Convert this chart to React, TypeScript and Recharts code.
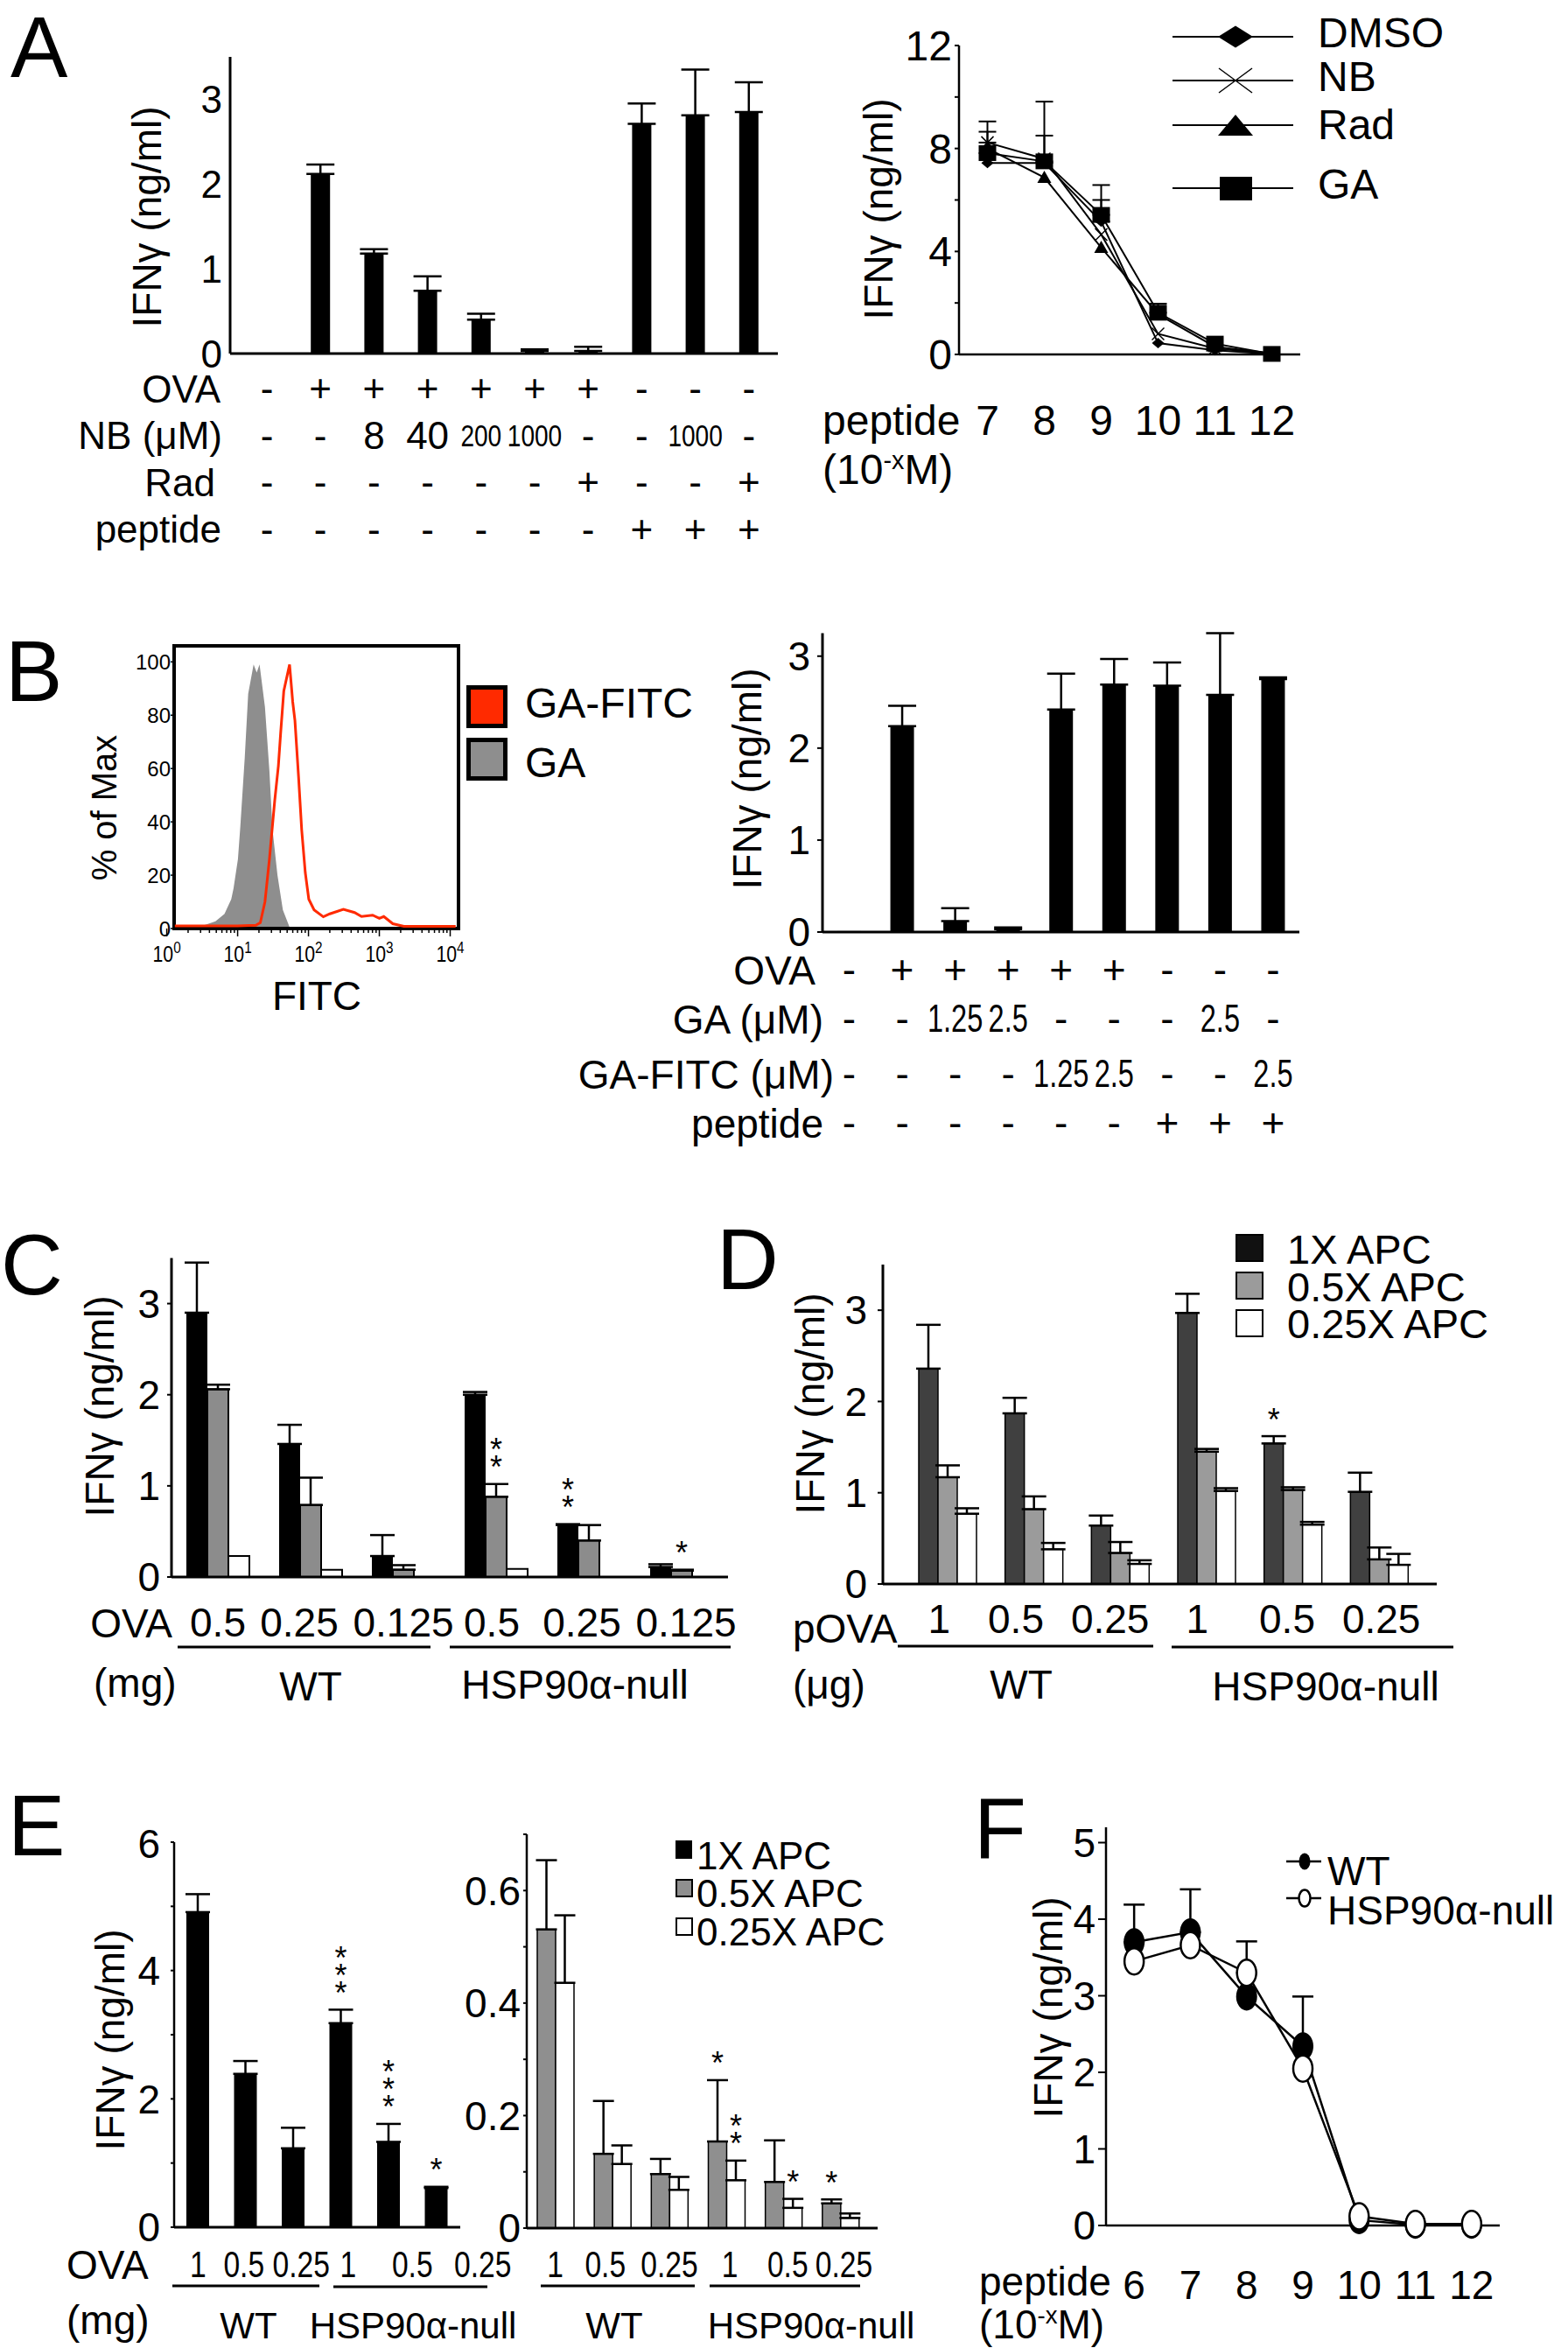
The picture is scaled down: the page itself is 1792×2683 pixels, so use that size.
import React from 'react';
import {
  BarChart,
  Bar,
  LineChart,
  Line,
  ComposedChart,
  Area,
  XAxis,
  YAxis,
  ErrorBar,
  LabelList,
  ReferenceArea,
} from 'recharts';

const FONT = '"Liberation Sans", Arial, Helvetica, sans-serif';

// ---------- A (left): IFNγ, NB / Rad treatment ----------
const aConditions = ['a1', 'a2', 'a3', 'a4', 'a5', 'a6', 'a7', 'a8', 'a9', 'a10'];
const aIfng = [0.01, 2.12, 1.18, 0.74, 0.4, 0.03, 0.03, 2.71, 2.81, 2.85];
const aIfngErr = [0, 0.11, 0.05, 0.17, 0.07, 0.02, 0.05, 0.24, 0.54, 0.35];
const aRowOva = ['-', '+', '+', '+', '+', '+', '+', '-', '-', '-'];
const aRowNb = ['-', '-', '8', '40', '200', '1000', '-', '-', '1000', '-'];
const aRowRad = ['-', '-', '-', '-', '-', '-', '+', '-', '-', '+'];
const aRowPeptide = ['-', '-', '-', '-', '-', '-', '-', '+', '+', '+'];

// ---------- A (right): peptide titration ----------
const aPeptideExp = [7, 8, 9, 10, 11, 12];
const aDmso = [7.44, 7.44, 5.16, 0.44, 0.16, 0.02];
const aNb = [8.23, 7.6, 4.66, 0.8, 0.23, 0.04];
const aRad = [8.0, 6.87, 4.15, 1.56, 0.3, 0.04];
const aGa = [7.82, 7.5, 5.42, 1.62, 0.42, 0.02];
const aDmsoErr = [0, 1.06, 0.84, 0, 0, 0];
const aNbErr = [0.42, 0, 0, 0, 0, 0];
const aGaErr = [1.23, 2.32, 1.16, 0.35, 0, 0];

// ---------- B (left): FITC histogram ----------
const bGaFitc = [2.72, 3.65, 4.87, 6.53, 8.13, 8.75, 10.1, 10.9, 12.6, 14.1, 16.8, 18.6, 20.4, 24.3, 28.1, 31.1, 36.5, 43.5, 54.1];
const bGaPct = [0.5, 1.6, 2.7, 5.5, 11, 15, 26, 38, 64, 88, 99, 96, 99, 83, 59, 37, 20, 7, 0.5];
const bGaFitcFitc = [1.3, 10, 18.1, 20.9, 24.3, 28.1, 33.4, 37.6, 40.4, 44.8, 54.1, 59.9, 64.4, 72.4, 80.2, 90.1, 101, 120, 162, 200, 311, 447, 560, 804, 1000, 1156, 1549, 2225, 11940];
const bGaFitcPct = [1, 1, 1.2, 2.2, 10, 26, 48, 61, 73, 89, 99, 85, 78, 57, 37, 21, 11, 7, 4.4, 5.5, 7.2, 6, 4.5, 5, 3.8, 4.5, 1.8, 0.8, 0.8];
const bDecades = [1, 10, 100, 1000, 10000];
const bPctTicks = [0, 20, 40, 60, 80, 100];

// ---------- B (right): GA vs GA-FITC ----------
const bConditions = ['b1', 'b2', 'b3', 'b4', 'b5', 'b6', 'b7', 'b8', 'b9'];
const bIfng = [0.01, 2.24, 0.12, 0.03, 2.42, 2.69, 2.68, 2.58, 2.75];
const bIfngErr = [0, 0.22, 0.14, 0.02, 0.39, 0.28, 0.25, 0.67, 0.02];
const bRowOva = ['-', '+', '+', '+', '+', '+', '-', '-', '-'];
const bRowGa = ['-', '-', '1.25', '2.5', '-', '-', '-', '2.5', '-'];
const bRowGaFitc = ['-', '-', '-', '-', '1.25', '2.5', '-', '-', '2.5'];
const bRowPeptide = ['-', '-', '-', '-', '-', '-', '+', '+', '+'];

// ---------- C: OVA protein, APC dilution ----------
const cGroups = ['c1', 'c2', 'c3', 'c4', 'c5', 'c6'];
const cDoses = ['0.5', '0.25', '0.125', '0.5', '0.25', '0.125'];
const cApc1 = [2.9, 1.46, 0.23, 2.0, 0.57, 0.11];
const cApc1Err = [0.55, 0.21, 0.23, 0.03, 0.01, 0.03];
const cApc05 = [2.06, 0.79, 0.08, 0.88, 0.4, 0.07];
const cApc05Err = [0.05, 0.3, 0.05, 0.14, 0.17, 0.01];
const cApc025 = [0.23, 0.08, 0, 0.09, 0, 0];
const cSig1 = [0, 0, 0, 0, 2, 0];
const cSig05 = [0, 0, 0, 2, 0, 1];

// ---------- D: pOVA, APC dilution ----------
const dGroups = ['d1', 'd2', 'd3', 'd4', 'd5', 'd6'];
const dDoses = ['1', '0.5', '0.25', '1', '0.5', '0.25'];
const dApc1 = [2.36, 1.87, 0.64, 2.97, 1.54, 1.01];
const dApc1Err = [0.48, 0.17, 0.11, 0.21, 0.08, 0.21];
const dApc05 = [1.17, 0.82, 0.34, 1.45, 1.03, 0.27];
const dApc05Err = [0.13, 0.14, 0.12, 0.03, 0.03, 0.13];
const dApc025 = [0.77, 0.38, 0.22, 1.02, 0.65, 0.21];
const dApc025Err = [0.06, 0.07, 0.04, 0.03, 0.03, 0.12];
const dSig1 = [0, 0, 0, 0, 1, 0];

// ---------- E ----------
const eGroups = ['e1', 'e2', 'e3', 'e4', 'e5', 'e6'];
const eDoses = ['1', '0.5', '0.25', '1', '0.5', '0.25'];
const eLeft1 = [4.91, 2.39, 1.23, 3.18, 1.33, 0.61];
const eLeft1Err = [0.28, 0.2, 0.32, 0.21, 0.28, 0.02];
const eLeftSig = [0, 0, 0, 3, 3, 1];
const eRight05 = [0.531, 0.132, 0.096, 0.154, 0.082, 0.044];
const eRight05Err = [0.123, 0.094, 0.027, 0.109, 0.074, 0.007];
const eRight025 = [0.436, 0.114, 0.068, 0.085, 0.036, 0.018];
const eRight025Err = [0.12, 0.033, 0.023, 0.035, 0.016, 0.008];
const eRightSig05 = [0, 0, 0, 1, 0, 1];
const eRightSig025 = [0, 0, 0, 2, 1, 0];

// ---------- F ----------
const fPeptideExp = [6, 7, 8, 9, 10, 11, 12];
const fWt = [3.7, 3.83, 2.99, 2.34, 0.07, 0.01, 0.01];
const fWtErr = [0.49, 0.56, 0, 0.65, 0, 0, 0];
const fNull = [3.45, 3.66, 3.3, 2.05, 0.12, 0.02, 0.02];
const fNullErr = [0, 0, 0.41, 0, 0, 0, 0];

// ---------- helpers ----------
const upErr = (e: number) => (e ? [0, e] : null);
const AXIS3 = { stroke: '#000', strokeWidth: 3 };
const AXIS2 = { stroke: '#000', strokeWidth: 2.5 };
const TICK = { stroke: '#000', strokeWidth: 2 };
const tickStyle = (fs: number) => ({ fontSize: fs, fill: '#000', fontFamily: FONT });

const vbOf = (p: any) => p.viewBox || { x: p.x, y: p.y, width: p.width, height: p.height };

// horizontally condensed label (the figure uses a narrow face for numbers)
const CText = ({ x, y, size, sx = 1, children }: any) => (
  <g transform={`translate(${x} ${y}) scale(${sx} 1)`}>
    <text x={0} y={0} dy="0.35em" textAnchor="middle" fontSize={size} fontFamily={FONT} fill="#000">
      {children}
    </text>
  </g>
);

// table row under a bar, placed from the bar's own geometry
const rowLabel = (values: string[], offset: number, size = 44, small = 0, sxLong = 0.78) => (p: any) => {
  const vb = vbOf(p);
  const v = values[p.index];
  if (!v) return null;
  const long = v.length > 2;
  return (
    <CText x={vb.x + vb.width / 2} y={vb.y + vb.height + offset} size={small && long ? small : size} sx={long ? sxLong : 1}>
      {v}
    </CText>
  );
};

// significance stars above the error bar
const stars = (sig: number[], vals: number[], errs: number[]) => (p: any) => {
  const i = p.index;
  const n = sig[i];
  if (!n) return null;
  const vb = vbOf(p);
  const h = Math.abs(vb.height);
  const top = Math.min(vb.y, vb.y + vb.height);
  const errTop = vals[i] > 0 ? top - (errs[i] / vals[i]) * h : top;
  const cx = vb.x + vb.width / 2;
  return (
    <g>
      {Array.from({ length: n }).map((_, k) => (
        <text key={k} x={cx} y={errTop - 27 - k * 20} dy="0.57em" textAnchor="middle" fontSize={36} fontFamily={FONT} fill="#000">
          *
        </text>
      ))}
    </g>
  );
};

const catTick = (labels: string[], size: number, nudge?: number[], sx = 1) => (p: any) => {
  const i = p.index ?? p.payload?.index ?? 0;
  return (
    <CText x={p.x + (nudge ? nudge[i] : 0)} y={p.y} size={size} sx={sx}>
      {labels[i]}
    </CText>
  );
};

const numTick = (size: number) => (p: any) => (
  <text x={p.x} y={p.y} dy="0.35em" textAnchor="middle" fontSize={size} fontFamily={FONT} fill="#000">
    {p.payload.value}
  </text>
);

const LogTick = (p: any) => {
  const v = p.payload.value;
  const exp = Math.log10(v);
  const major = Math.abs(exp - Math.round(exp)) < 1e-6;
  return (
    <g>
      <line x1={p.x} x2={p.x} y1={p.y} y2={p.y + (major ? 9 : 5)} stroke="#000" strokeWidth={1.5} />
      {major && (
        <g transform={`translate(${p.x} ${p.y + 38}) scale(0.85 1)`}>
          <text x={0} y={0} textAnchor="middle" fontSize={25} fontFamily={FONT} fill="#000">
            10
            <tspan dy={-10} fontSize={18}>
              {Math.round(exp)}
            </tspan>
          </text>
        </g>
      )}
    </g>
  );
};

// markers
const diamondDot = (p: any) => (
  <polygon key={`dm${p.index}`} points={`${p.cx},${p.cy - 6} ${p.cx + 7},${p.cy} ${p.cx},${p.cy + 6} ${p.cx - 7},${p.cy}`} fill="#000" />
);
const crossDot = (p: any) => (
  <g key={`nb${p.index}`} stroke="#000" strokeWidth={1.5}>
    <line x1={p.cx - 7} y1={p.cy - 7} x2={p.cx + 7} y2={p.cy + 7} />
    <line x1={p.cx - 7} y1={p.cy + 7} x2={p.cx + 7} y2={p.cy - 7} />
  </g>
);
const triDot = (p: any) => (
  <polygon key={`rd${p.index}`} points={`${p.cx},${p.cy - 8} ${p.cx + 8},${p.cy + 6} ${p.cx - 8},${p.cy + 6}`} fill="#000" />
);
const squareDot = (p: any) => <rect key={`ga${p.index}`} x={p.cx - 10} y={p.cy - 9} width={20} height={18} fill="#000" />;
const fullEllipse = (p: any) => <ellipse key={`wt${p.index}`} cx={p.cx} cy={p.cy} rx={11} ry={15} fill="#000" stroke="#000" strokeWidth={2} />;
const openEllipse = (p: any) => <ellipse key={`nl${p.index}`} cx={p.cx} cy={p.cy} rx={11} ry={15} fill="#fff" stroke="#000" strokeWidth={2.5} />;

// ---------- tables for the library ----------
const aBarData = aConditions.map((c, i) => ({ cond: c, ifng: aIfng[i], err: upErr(aIfngErr[i]) }));
const aLineData = aPeptideExp.map((p, i) => ({
  p,
  dmso: aDmso[i],
  nb: aNb[i],
  rad: aRad[i],
  ga: aGa[i],
  dmsoErr: upErr(aDmsoErr[i]),
  nbErr: upErr(aNbErr[i]),
  gaErr: upErr(aGaErr[i]),
}));
const bGaData = bGaFitc.map((f, i) => ({ fitc: f, pct: bGaPct[i] }));
const bGaFitcData = bGaFitcFitc.map((f, i) => ({ fitc: f, pct: bGaFitcPct[i] }));
const bLogTicks = bDecades.flatMap((d) => (d === 10000 ? [d] : [1, 2, 3, 4, 5, 6, 7, 8, 9].map((m) => m * d)));
const bBarData = bConditions.map((c, i) => ({ cond: c, ifng: bIfng[i], err: upErr(bIfngErr[i]) }));
const cData = cGroups.map((g, i) => ({
  g,
  apc1: cApc1[i],
  apc1Err: upErr(cApc1Err[i]),
  apc05: cApc05[i],
  apc05Err: upErr(cApc05Err[i]),
  apc025: cApc025[i],
}));
const dData = dGroups.map((g, i) => ({
  g,
  apc1: dApc1[i],
  apc1Err: upErr(dApc1Err[i]),
  apc05: dApc05[i],
  apc05Err: upErr(dApc05Err[i]),
  apc025: dApc025[i],
  apc025Err: upErr(dApc025Err[i]),
}));
const eLeftData = eGroups.map((g, i) => ({ g, apc1: eLeft1[i], apc1Err: upErr(eLeft1Err[i]) }));
const eRightData = eGroups.map((g, i) => ({
  g,
  apc05: eRight05[i],
  apc05Err: upErr(eRight05Err[i]),
  apc025: eRight025[i],
  apc025Err: upErr(eRight025Err[i]),
}));
const fData = fPeptideExp.map((p, i) => ({ p, wt: fWt[i], wtErr: upErr(fWtErr[i]), nul: fNull[i], nulErr: upErr(fNullErr[i]) }));

// ---------- panels ----------
function PanelABars() {
  return (
    <BarChart width={749} height={600} data={aBarData} margin={{ top: 25, right: 10, left: 0, bottom: 0 }}>
      <XAxis dataKey="cond" height={236} tick={false} tickLine={false} axisLine={AXIS3} padding={{ left: 11, right: 3 }} />
      <YAxis width={113} domain={[0, 3.5]} ticks={[0, 1, 2, 3]} tick={tickStyle(44)} tickLine={false} tickSize={0} tickMargin={9} axisLine={AXIS3} />
      <Bar dataKey="ifng" fill="#000" barSize={22} isAnimationActive={false}>
        <ErrorBar dataKey="err" width={16} strokeWidth={2.5} stroke="#000" />
        <LabelList dataKey="ifng" content={rowLabel(aRowOva, 40)} />
        <LabelList dataKey="ifng" content={rowLabel(aRowNb, 93.5, 44, 36)} />
        <LabelList dataKey="ifng" content={rowLabel(aRowRad, 147)} />
        <LabelList dataKey="ifng" content={rowLabel(aRowPeptide, 200.5)} />
      </Bar>
    </BarChart>
  );
}

function PanelALines() {
  return (
    <LineChart width={506} height={500} data={aLineData} margin={{ top: 32, right: 20, left: 0, bottom: 0 }}>
      <XAxis dataKey="p" type="number" domain={[6.5, 12.5]} ticks={aPeptideExp} interval={0} height={115} tick={numTick(48)} tickLine={false} tickSize={0} tickMargin={75} axisLine={AXIS2} />
      <YAxis
        width={96}
        domain={[0, 12]}
        ticks={[0, 2, 4, 6, 8, 10, 12]}
        tickFormatter={(v: number) => (v % 4 === 0 ? String(v) : '')}
        tick={tickStyle(48)}
        tickSize={5}
        tickMargin={3}
        tickLine={TICK}
        axisLine={AXIS2}
      />
      <Line dataKey="dmso" stroke="#000" strokeWidth={2} dot={diamondDot} isAnimationActive={false}>
        <ErrorBar dataKey="dmsoErr" width={10} strokeWidth={2} stroke="#000" direction="y" />
      </Line>
      <Line dataKey="nb" stroke="#000" strokeWidth={2} dot={crossDot} isAnimationActive={false}>
        <ErrorBar dataKey="nbErr" width={10} strokeWidth={2} stroke="#000" direction="y" />
      </Line>
      <Line dataKey="rad" stroke="#000" strokeWidth={2} dot={triDot} isAnimationActive={false} />
      <Line dataKey="ga" stroke="#000" strokeWidth={2} dot={squareDot} isAnimationActive={false}>
        <ErrorBar dataKey="gaErr" width={10} strokeWidth={2} stroke="#000" direction="y" />
      </Line>
    </LineChart>
  );
}

function PanelBHist() {
  return (
    <ComposedChart width={424} height={396} margin={{ top: 18, right: 10, left: 0, bottom: 0 }}>
      <XAxis
        dataKey="fitc"
        type="number"
        scale="log"
        domain={[1.27, 13100]}
        allowDataOverflow
        ticks={bLogTicks}
        interval={0}
        height={55}
        tick={LogTick}
        tickLine={false}
        tickSize={0}
        tickMargin={0}
        axisLine={false}
      />
      <YAxis width={89} domain={[0, 106]} ticks={bPctTicks} tick={tickStyle(24)} tickSize={4} tickMargin={0} tickLine={{ stroke: '#000', strokeWidth: 1.5 }} axisLine={false} />
      <Area data={bGaData} dataKey="pct" type="linear" fill="#8e8e8e" fillOpacity={1} stroke="none" isAnimationActive={false} />
      <Line data={bGaFitcData} dataKey="pct" type="linear" stroke="#ff2a00" strokeWidth={3} dot={false} isAnimationActive={false} />
      <ReferenceArea x1={1.27} x2={13100} y1={0} y2={106} fill="none" stroke="#000" strokeWidth={4} />
    </ComposedChart>
  );
}

function PanelBBars() {
  return (
    <BarChart width={700} height={640} data={bBarData} margin={{ top: 23.5, right: 15, left: 0, bottom: 0 }}>
      <XAxis dataKey="cond" height={275} tick={false} tickLine={false} axisLine={AXIS3} />
      <YAxis width={140} domain={[0, 3.25]} ticks={[0, 1, 2, 3]} tick={tickStyle(46)} tickSize={6} tickMargin={8} tickLine={TICK} axisLine={AXIS3} />
      <Bar dataKey="ifng" fill="#000" barSize={27} isAnimationActive={false}>
        <ErrorBar dataKey="err" width={16} strokeWidth={2.5} stroke="#000" />
        <LabelList dataKey="ifng" content={rowLabel(bRowOva, 43, 46)} />
        <LabelList dataKey="ifng" content={rowLabel(bRowGa, 99, 46, 44, 0.74)} />
        <LabelList dataKey="ifng" content={rowLabel(bRowGaFitc, 162, 46, 44, 0.74)} />
        <LabelList dataKey="ifng" content={rowLabel(bRowPeptide, 218, 46)} />
      </Bar>
    </BarChart>
  );
}

function PanelC() {
  return (
    <BarChart width={742} height={472} data={cData} margin={{ top: 27.5, right: 10, left: 0, bottom: 0 }} barGap={0}>
      <XAxis dataKey="g" height={80} interval={0} tick={catTick(cDoses, 46, [0, -13, 0, -5, -8, 5])} tickLine={false} tickSize={0} tickMargin={52} axisLine={AXIS3} />
      <YAxis width={96} domain={[0, 3.5]} ticks={[0, 1, 2, 3]} tick={tickStyle(46)} tickSize={5} tickMargin={8} tickLine={TICK} axisLine={AXIS3} />
      <Bar dataKey="apc1" fill="#000" barSize={24} isAnimationActive={false}>
        <ErrorBar dataKey="apc1Err" width={14} strokeWidth={2.5} stroke="#000" />
        <LabelList dataKey="apc1" content={stars(cSig1, cApc1, cApc1Err)} />
      </Bar>
      <Bar dataKey="apc05" fill="#8c8c8c" stroke="#000" strokeWidth={2} barSize={24} isAnimationActive={false}>
        <ErrorBar dataKey="apc05Err" width={14} strokeWidth={2.5} stroke="#000" />
        <LabelList dataKey="apc05" content={stars(cSig05, cApc05, cApc05Err)} />
      </Bar>
      <Bar dataKey="apc025" fill="#fff" stroke="#000" strokeWidth={2} barSize={24} isAnimationActive={false} />
    </BarChart>
  );
}

function PanelD() {
  return (
    <BarChart width={762} height={490} data={dData} margin={{ top: 45, right: 20, left: 0, bottom: 0 }} barGap={0}>
      <XAxis dataKey="g" height={80} interval={0} padding={{ left: 25, right: 16 }} tick={catTick(dDoses, 46, [-10, -21, -12, -11, -7, 2])} tickLine={false} tickSize={0} tickMargin={40} axisLine={AXIS3} />
      <YAxis width={109} domain={[0, 3.5]} ticks={[0, 1, 2, 3]} tick={tickStyle(46)} tickSize={6} tickMargin={12} tickLine={TICK} axisLine={AXIS3} />
      <Bar dataKey="apc1" fill="#404040" stroke="#000" strokeWidth={1.5} barSize={22} isAnimationActive={false}>
        <ErrorBar dataKey="apc1Err" width={14} strokeWidth={2.5} stroke="#000" />
        <LabelList dataKey="apc1" content={stars(dSig1, dApc1, dApc1Err)} />
      </Bar>
      <Bar dataKey="apc05" fill="#9b9b9b" stroke="#000" strokeWidth={1.5} barSize={22} isAnimationActive={false}>
        <ErrorBar dataKey="apc05Err" width={14} strokeWidth={2.5} stroke="#000" />
      </Bar>
      <Bar dataKey="apc025" fill="#fff" stroke="#000" strokeWidth={1.5} barSize={22} isAnimationActive={false}>
        <ErrorBar dataKey="apc025Err" width={14} strokeWidth={2.5} stroke="#000" />
      </Bar>
    </BarChart>
  );
}

function PanelELeft() {
  return (
    <BarChart width={470} height={535} data={eLeftData} margin={{ top: 25, right: 64, left: 0, bottom: 0 }}>
      <XAxis dataKey="g" height={70} interval={0} tick={catTick(eDoses, 42, [0, -2, 9, 8, 27, 53], 0.8)} tickLine={false} tickSize={0} tickMargin={42} axisLine={AXIS3} />
      <YAxis
        width={79}
        domain={[0, 6]}
        ticks={[0, 1, 2, 3, 4, 5, 6]}
        tickFormatter={(v: number) => (v % 2 === 0 ? String(v) : '')}
        tick={tickStyle(46)}
        tickSize={4}
        tickMargin={12}
        tickLine={TICK}
        axisLine={AXIS2}
      />
      <Bar dataKey="apc1" fill="#000" barSize={26} isAnimationActive={false}>
        <ErrorBar dataKey="apc1Err" width={14} strokeWidth={2.5} stroke="#000" />
        <LabelList dataKey="apc1" content={stars(eLeftSig, eLeft1, eLeft1Err)} />
      </Bar>
    </BarChart>
  );
}

function PanelERight() {
  return (
    <BarChart width={513} height={546} data={eRightData} margin={{ top: 26, right: 30, left: 0, bottom: 0 }} barGap={0}>
      <XAxis dataKey="g" height={70} interval={0} padding={{ left: 0, right: 10 }} tick={catTick(eDoses, 42, [0, -8, 0, 4, 5, 4], 0.8)} tickLine={false} tickSize={0} tickMargin={41} axisLine={AXIS3} />
      <YAxis
        width={82}
        domain={[0, 0.7]}
        ticks={[0, 0.1, 0.2, 0.3, 0.4, 0.5, 0.6, 0.7]}
        tickFormatter={(v: number) => (v === 0 ? '0' : Math.round(v * 10) % 2 === 0 ? v.toFixed(1) : '')}
        tick={tickStyle(46)}
        tickSize={4}
        tickMargin={3}
        tickLine={TICK}
        axisLine={AXIS2}
      />
      <Bar dataKey="apc05" fill="#8f8f8f" stroke="#000" strokeWidth={1.5} barSize={21} isAnimationActive={false}>
        <ErrorBar dataKey="apc05Err" width={12} strokeWidth={2.5} stroke="#000" />
        <LabelList dataKey="apc05" content={stars(eRightSig05, eRight05, eRight05Err)} />
      </Bar>
      <Bar dataKey="apc025" fill="#fff" stroke="#000" strokeWidth={1.5} barSize={21} isAnimationActive={false}>
        <ErrorBar dataKey="apc025Err" width={12} strokeWidth={2.5} stroke="#000" />
        <LabelList dataKey="apc025" content={stars(eRightSig025, eRight025, eRight025Err)} />
      </Bar>
    </BarChart>
  );
}

function PanelF() {
  return (
    <LineChart width={594} height={583} data={fData} margin={{ top: 28, right: 20, left: 0, bottom: 0 }}>
      <XAxis dataKey="p" type="number" domain={[5.5, 12.5]} ticks={fPeptideExp} interval={0} height={100} tick={numTick(46)} tickLine={false} tickSize={0} tickMargin={68} axisLine={AXIS2} />
      <YAxis width={124} domain={[0, 5.2]} ticks={[0, 1, 2, 3, 4, 5]} tick={tickStyle(46)} tickSize={9} tickMargin={3} tickLine={TICK} axisLine={AXIS2} />
      <Line dataKey="wt" stroke="#000" strokeWidth={2.5} dot={fullEllipse} isAnimationActive={false}>
        <ErrorBar dataKey="wtErr" width={12} strokeWidth={2.5} stroke="#000" direction="y" />
      </Line>
      <Line dataKey="nul" stroke="#000" strokeWidth={2.5} dot={openEllipse} isAnimationActive={false}>
        <ErrorBar dataKey="nulErr" width={12} strokeWidth={2.5} stroke="#000" direction="y" />
      </Line>
    </LineChart>
  );
}

// ---------- static annotation layer ----------
const Txt = ({ x, y, size = 46, anchor = 'start', rotate = false, children }: any) => (
  <text
    x={x}
    y={y}
    dy="0.36em"
    fontSize={size}
    fontFamily={FONT}
    fill="#000"
    textAnchor={anchor}
    transform={rotate ? `rotate(-90 ${x} ${y})` : undefined}
  >
    {children}
  </text>
);

const Sup = ({ text, size }: any) => (
  <>
    <tspan dy={-size * 0.36} fontSize={size * 0.6}>
      {text}
    </tspan>
    <tspan dy={size * 0.36}>M)</tspan>
  </>
);

function Overlay() {
  const Y = 'IFNγ (ng/ml)';
  return (
    <svg width={1792} height={2683} style={{ position: 'absolute', left: 0, top: 0, pointerEvents: 'none' }}>
      {/* panel letters */}
      <Txt x={12} y={52.5} size={98}>A</Txt>
      <Txt x={6} y={766} size={98}>B</Txt>
      <Txt x={1} y={1443.5} size={98}>C</Txt>
      <Txt x={819} y={1437.5} size={98}>D</Txt>
      <Txt x={9} y={2085} size={98}>E</Txt>
      <Txt x={1113} y={2088} size={98}>F</Txt>

      {/* y-axis titles */}
      <Txt x={167} y={248} anchor="middle" rotate>{Y}</Txt>
      <Txt x={1003} y={239} anchor="middle" rotate>{Y}</Txt>
      <Txt x={119} y={923} size={40} anchor="middle" rotate>% of Max</Txt>
      <Txt x={853} y={890} anchor="middle" rotate>{Y}</Txt>
      <Txt x={113} y={1607} anchor="middle" rotate>{Y}</Txt>
      <Txt x={925} y={1604} anchor="middle" rotate>{Y}</Txt>
      <Txt x={125} y={2331} anchor="middle" rotate>{Y}</Txt>
      <Txt x={1197} y={2294} anchor="middle" rotate>{Y}</Txt>

      {/* A left table rows */}
      <Txt x={252} y={444} size={44} anchor="end">OVA</Txt>
      <Txt x={254} y={497.5} size={44} anchor="end">NB (μM)</Txt>
      <Txt x={246} y={551} size={44} anchor="end">Rad</Txt>
      <Txt x={253} y={604.5} size={44} anchor="end">peptide</Txt>

      {/* A right axis caption + legend */}
      <Txt x={940} y={480} size={48}>peptide</Txt>
      <text x={940} y={536} dy="0.36em" fontSize={48} fontFamily={FONT} fill="#000">
        (10
        <Sup text="-x" size={48} />
      </text>
      <g stroke="#000" strokeWidth={2}>
        <line x1={1340} x2={1478} y1={42} y2={42} />
        <line x1={1340} x2={1478} y1={92} y2={92} />
        <line x1={1340} x2={1478} y1={143} y2={143} />
        <line x1={1340} x2={1478} y1={215} y2={215} />
        <line x1={1393} y1={78} x2={1431} y2={106} strokeWidth={1.5} />
        <line x1={1393} y1={106} x2={1431} y2={78} strokeWidth={1.5} />
      </g>
      <polygon points="1412,29.5 1432,42 1412,54.5 1392,42" fill="#000" />
      <polygon points="1412,131 1432,155 1392,155" fill="#000" />
      <rect x={1394} y={202} width={37} height={27} fill="#000" />
      <Txt x={1506} y={37} size={48}>DMSO</Txt>
      <Txt x={1506} y={87} size={48}>NB</Txt>
      <Txt x={1506} y={142} size={48}>Rad</Txt>
      <Txt x={1506} y={210} size={48}>GA</Txt>

      {/* B left */}
      <Txt x={362} y={1137} anchor="middle">FITC</Txt>
      <rect x={535.5} y={785.5} width={42} height={44} fill="#ff2a00" stroke="#000" strokeWidth={5} />
      <rect x={535.5} y={845.5} width={42} height={44} fill="#8e8e8e" stroke="#000" strokeWidth={5} />
      <Txt x={600} y={803} size={48}>GA-FITC</Txt>
      <Txt x={600} y={871} size={48}>GA</Txt>

      {/* B right table rows */}
      <Txt x={932} y={1108} anchor="end">OVA</Txt>
      <Txt x={941} y={1164} anchor="end">GA (μM)</Txt>
      <Txt x={953} y={1227} anchor="end">GA-FITC (μM)</Txt>
      <Txt x={941} y={1283} anchor="end">peptide</Txt>

      {/* C */}
      <Txt x={197} y={1854} anchor="end">OVA</Txt>
      <Txt x={107} y={1922}>(mg)</Txt>
      <g stroke="#000" strokeWidth={3}>
        <line x1={203} x2={492} y1={1882} y2={1882} />
        <line x1={514} x2={835} y1={1882} y2={1882} />
      </g>
      <Txt x={355} y={1926} anchor="middle">WT</Txt>
      <Txt x={657} y={1924} anchor="middle">HSP90α-null</Txt>

      {/* D */}
      <Txt x={906} y={1860}>pOVA</Txt>
      <Txt x={906} y={1924}>(μg)</Txt>
      <g stroke="#000" strokeWidth={3}>
        <line x1={1026} x2={1318} y1={1881} y2={1881} />
        <line x1={1339} x2={1661} y1={1882} y2={1882} />
      </g>
      <Txt x={1167} y={1924} anchor="middle">WT</Txt>
      <Txt x={1515} y={1926} anchor="middle">HSP90α-null</Txt>
      <rect x={1413} y={1411} width={30} height={30} fill="#111" stroke="#000" strokeWidth={2} />
      <rect x={1413} y={1454} width={30} height={30} fill="#9b9b9b" stroke="#000" strokeWidth={2} />
      <rect x={1413} y={1497} width={30} height={30} fill="#fff" stroke="#000" strokeWidth={2} />
      <Txt x={1471} y={1427} size={47}>1X APC</Txt>
      <Txt x={1471} y={1470} size={47}>0.5X APC</Txt>
      <Txt x={1471} y={1512} size={47}>0.25X APC</Txt>

      {/* E */}
      <Txt x={76} y={2587}>OVA</Txt>
      <Txt x={76} y={2650}>(mg)</Txt>
      <g stroke="#000" strokeWidth={3}>
        <line x1={197} x2={365} y1={2612} y2={2612} />
        <line x1={381} x2={557} y1={2613} y2={2613} />
        <line x1={618} x2={794} y1={2612} y2={2612} />
        <line x1={811} x2={983} y1={2612} y2={2612} />
      </g>
      <Txt x={284} y={2657} size={42} anchor="middle">WT</Txt>
      <Txt x={472} y={2657} size={42} anchor="middle">HSP90α-null</Txt>
      <Txt x={702} y={2657} size={42} anchor="middle">WT</Txt>
      <Txt x={927} y={2657} size={42} anchor="middle">HSP90α-null</Txt>
      <rect x={772} y={2103} width={19} height={21} fill="#000" />
      <rect x={773} y={2148} width={18} height={19} fill="#8f8f8f" stroke="#000" strokeWidth={2} />
      <rect x={773} y={2192} width={18} height={19} fill="#fff" stroke="#000" strokeWidth={2} />
      <Txt x={796} y={2120} size={44}>1X APC</Txt>
      <Txt x={796} y={2163} size={44}>0.5X APC</Txt>
      <Txt x={796} y={2207} size={44}>0.25X APC</Txt>

      {/* F */}
      <Txt x={1119} y={2606}>peptide</Txt>
      <text x={1119} y={2655} dy="0.36em" fontSize={46} fontFamily={FONT} fill="#000">
        (10
        <Sup text="-x" size={46} />
      </text>
      <g stroke="#000" strokeWidth={2.5}>
        <line x1={1470} x2={1510} y1={2127} y2={2127} />
        <line x1={1470} x2={1510} y1={2169} y2={2169} />
      </g>
      <ellipse cx={1491} cy={2127} rx={6.5} ry={9.5} fill="#000" />
      <ellipse cx={1491} cy={2169} rx={6.5} ry={9.5} fill="#fff" stroke="#000" strokeWidth={2.5} />
      <Txt x={1517} y={2137}>WT</Txt>
      <Txt x={1517} y={2182}>HSP90α-null</Txt>
    </svg>
  );
}

const at = (left: number, top: number): React.CSSProperties => ({ position: 'absolute', left, top });

export default function App() {
  return (
    <div style={{ position: 'absolute', left: 0, top: 0, width: 1792, height: 2683, overflow: 'hidden', background: '#fff', fontFamily: FONT }}>
      <div style={at(150, 40)}>
        <PanelABars />
      </div>
      <div style={at(1000, 20)}>
        <PanelALines />
      </div>
      <div style={at(110, 720)}>
        <PanelBHist />
      </div>
      <div style={at(800, 700)}>
        <PanelBBars />
      </div>
      <div style={at(100, 1410)}>
        <PanelC />
      </div>
      <div style={at(900, 1400)}>
        <PanelD />
      </div>
      <div style={at(120, 2080)}>
        <PanelELeft />
      </div>
      <div style={at(520, 2070)}>
        <PanelERight />
      </div>
      <div style={at(1140, 2060)}>
        <PanelF />
      </div>
      <Overlay />
    </div>
  );
}
